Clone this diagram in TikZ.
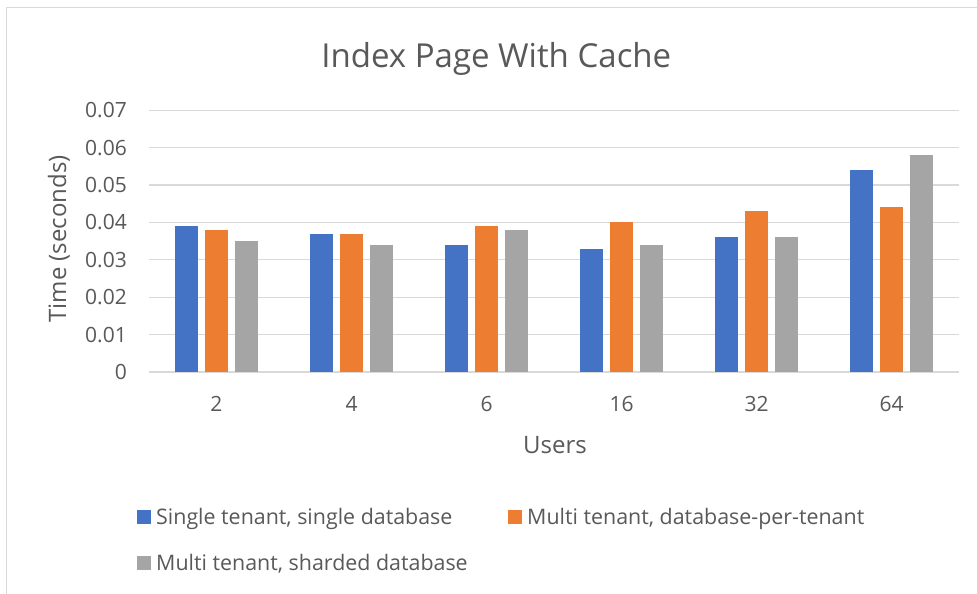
\documentclass[tikz,border=0pt]{standalone}
\usepackage{fontspec}
\setmainfont{Open Sans}
\definecolor{cblue}{HTML}{4472C4}
\definecolor{corange}{HTML}{ED7D31}
\definecolor{cgray}{HTML}{A5A5A5}
\definecolor{gridc}{HTML}{D9D9D9}
\definecolor{txt}{HTML}{595959}
\begin{document}
\begin{tikzpicture}[x=1pt,y=-1pt,
  lbl/.style={text=txt, inner sep=0pt, font=\fontsize{21}{24}\selectfont},
  ticklbl/.style={lbl, anchor=east},
  axtitle/.style={text=txt, inner sep=0pt, font=\fontsize{24}{28}\selectfont},
  legtext/.style={text=txt, inner sep=0pt, font=\fontsize{21.4}{25}\selectfont, anchor=base west},
  gridline/.style={draw=gridc, line width=1.3pt},
  legbox/.style={inner sep=0pt, minimum size=14pt, anchor=south west}]
\path[use as bounding box, fill=white] (0,0) rectangle (977,594);
\draw[gridc, line width=1.5pt] (6.7,594) -- (6.7,7.3) -- (977,7.3);
% gridlines and tick labels
\foreach \k/\lab in {0/0,1/0.01,2/0.02,3/0.03,4/0.04,5/0.05,6/0.06,7/0.07}{
  \draw[gridline] ({149},{372-37.4*\k}) -- ({959},{372-37.4*\k});
  \node[ticklbl] (t\k) at ({127},{372-37.4*\k}) {\lab};
}
% bars
\foreach \i/\c/\a/\b/\g in {0/2/39/38/35,1/4/37/37/34,2/6/34/39/38,3/16/33/40/34,4/32/36/43/36,5/64/54/44/58}{
  \pgfmathsetmacro\cx{216.5+135*\i}
  \fill[cblue] ({\cx-41.5},372) rectangle ({\cx-18.5},{372-3.74*\a});
  \fill[corange] ({\cx-11.5},372) rectangle ({\cx+11.5},{372-3.74*\b});
  \fill[cgray] ({\cx+18.5},372) rectangle ({\cx+41.5},{372-3.74*\g});
  \node[lbl] (c\i) at ({\cx},404) {\c};
}
% titles
\node[text=txt, inner sep=0pt, anchor=base, font=\fontsize{33}{40}\selectfont] (title) at (496.3,67.7) {Index Page With Cache};
\node[axtitle, anchor=base] (xtitle) at (555,453) {Users};
\node[axtitle, anchor=base, rotate=90] (ytitle) at (66,239) {Time (seconds)};
% legend
\node[legbox, fill=cblue] (k1) at (137,524) {};
\node[legtext] (l1) at (156,524) {Single tenant, single database};
\node[legbox, fill=corange] (k2) at (507.5,524) {};
\node[legtext] (l2) at (527,524) {Multi tenant, database-per-tenant};
\node[legbox, fill=cgray] (k3) at (137,570) {};
\node[legtext] (l3) at (156,570) {Multi tenant, sharded database};
\end{tikzpicture}
\end{document}
